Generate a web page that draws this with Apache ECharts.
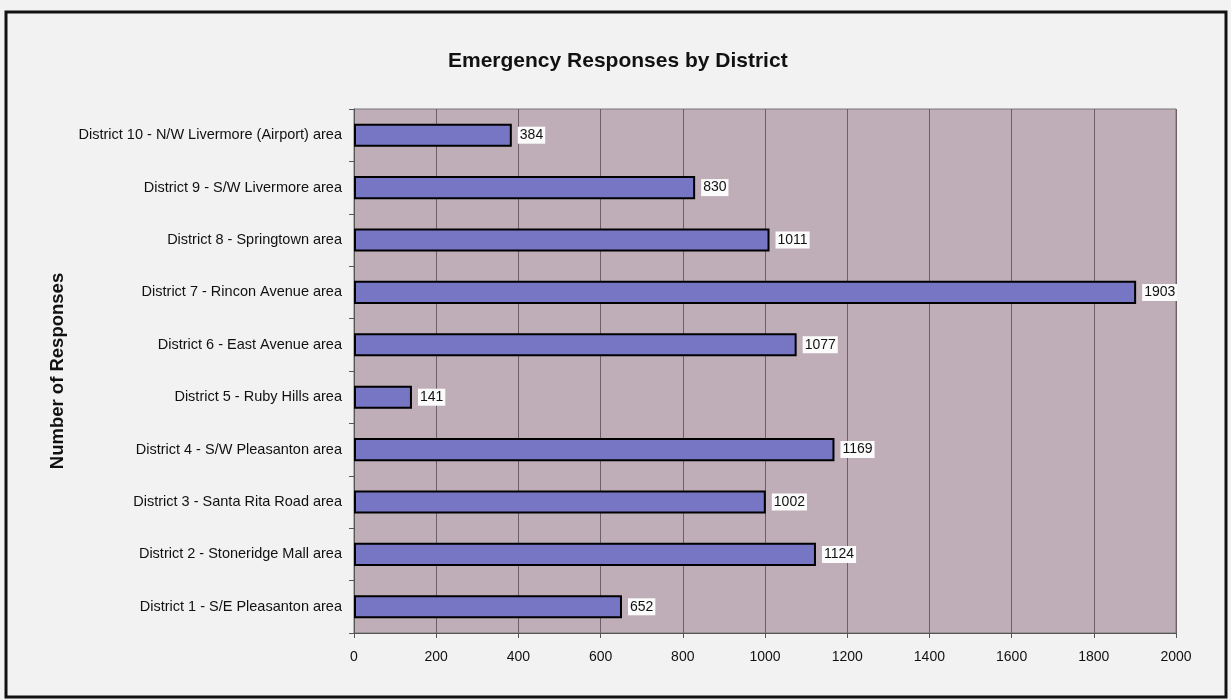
<!DOCTYPE html>
<html>
<head>
<meta charset="utf-8">
<script src="https://cdn.jsdelivr.net/npm/echarts@6/dist/echarts.min.js"></script>
<style>
  html, body { margin: 0; padding: 0; background: #f2f2f2; }
  #chart { width: 1231px; height: 700px; }
</style>
</head>
<body>
<div id="chart"></div>
<script>
// districts, bottom to top
const districts = [
  "District 1 - S/E Pleasanton area",
  "District 2 - Stoneridge Mall area",
  "District 3 - Santa Rita Road area",
  "District 4 - S/W Pleasanton area",
  "District 5 - Ruby Hills area",
  "District 6 - East Avenue area",
  "District 7 - Rincon Avenue area",
  "District 8 - Springtown area",
  "District 9 - S/W Livermore area",
  "District 10 - N/W Livermore (Airport) area"
];
const responses = [652, 1124, 1002, 1169, 141, 1077, 1903, 1011, 830, 384];

const chart = echarts.init(document.getElementById("chart"));

const option = {
  backgroundColor: "#f2f2f2",
  animation: false,
  textStyle: { fontFamily: "Liberation Sans, Arial, sans-serif" },
  title: {
    text: "Emergency Responses by District",
    left: 443,
    top: 46,
    textStyle: { fontSize: 21, fontWeight: "bold", color: "#111" }
  },
  graphic: [
    {
      type: "rect",
      shape: { x: 6, y: 12, width: 1220, height: 685 },
      style: { fill: "none", stroke: "#111", lineWidth: 3 },
      silent: true
    }
  ],
  grid: {
    left: 354,
    right: 55,
    top: 109,
    bottom: 67,
    show: true,
    backgroundColor: "#bfaeb7",
    borderColor: "#777",
    borderWidth: 1
  },
  xAxis: {
    type: "value",
    min: 0,
    max: 2000,
    interval: 200,
    axisLine: { show: true, lineStyle: { color: "#555" } },
    axisTick: { show: true, length: 5, lineStyle: { color: "#555" } },
    axisLabel: { color: "#111", fontSize: 14, margin: 17, formatter: v => String(v) },
    splitLine: { show: true, lineStyle: { color: "#6a6066", width: 1 } }
  },
  yAxis: {
    type: "category",
    data: districts,
    name: "Number of Responses",
    nameLocation: "middle",
    nameGap: 285,
    nameRotate: 90,
    nameTextStyle: { fontSize: 18.5, fontWeight: "bold", color: "#111" },
    axisLine: { show: true, lineStyle: { color: "#555" } },
    axisTick: { show: true, length: 5, lineStyle: { color: "#555" } },
    axisLabel: { color: "#111", fontSize: 14.5, margin: 12 }
  },
  series: [
    {
      type: "bar",
      data: responses,
      barCategoryGap: "56%",
      itemStyle: {
        color: "#7676c4",
        borderColor: "#000",
        borderWidth: 2
      },
      label: {
        show: true,
        position: "right",
        distance: 6,
        color: "#111",
        fontSize: 14,
        backgroundColor: "#fbfbfb",
        padding: [2, 2, 1, 2]
      }
    }
  ]
};

chart.setOption(option);
</script>
</body>
</html>
